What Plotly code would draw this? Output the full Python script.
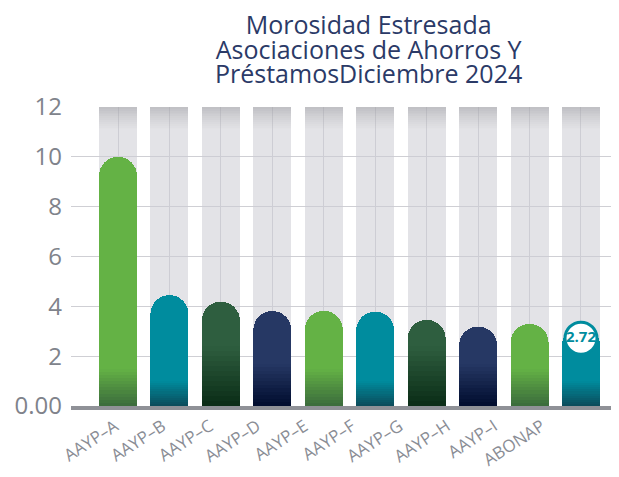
import plotly.graph_objects as go

# Datos
categorias = ["AAYP–A", "AAYP–B", "AAYP–C", "AAYP–D", "AAYP–E",
              "AAYP–F", "AAYP–G", "AAYP–H", "AAYP–I", "ABONAP"]
morosidad = [9.53, 3.98, 3.72, 3.34, 3.35, 3.32, 2.99, 2.72, 2.83, 2.72]
destacado = "ABONAP"
titulo = ["Morosidad Estresada", "Asociaciones de Ahorros Y", "PréstamosDiciembre 2024"]
y_ticks = [0, 2, 4, 6, 8, 10, 12]
y_tick_labels = ["0.00", "2", "4", "6", "8", "10", "12"]

# Estilo
VERDE, TEAL, VERDE_OSC, NAVY = "#64b245", "#008c9e", "#2e5e3f", "#263864"
oscuro = {VERDE: "#3a6a3c", TEAL: "#0b4a59", VERDE_OSC: "#0a2c16", NAVY: "#000c2e"}
alto_grad = {VERDE: 1.5, TEAL: 1.0, VERDE_OSC: 2.4, NAVY: 1.7}
colores = [VERDE, TEAL, VERDE_OSC, NAVY, VERDE, TEAL, VERDE_OSC, NAVY, VERDE, TEAL]
CAP = 0.47        # the rounded top sits above the value
ANCHO = 0.74
TOPE = 12
SOMBRA = 0.9
N = 12
FUENTE = "Open Sans"
GRID = "#cfcfd4"


def mezcla(c1, c2, t):
    a = [int(c1[i:i + 2], 16) for i in (1, 3, 5)]
    b = [int(c2[i:i + 2], 16) for i in (1, 3, 5)]
    return "rgb(%d,%d,%d)" % tuple(round(a[i] + (b[i] - a[i]) * t) for i in range(3))


fig = go.Figure()
n = len(categorias)

# traza invisible para que se dibuje el eje de etiquetas (x / y)
fig.add_trace(go.Scatter(x=list(range(n)), y=[0] * n, mode="markers",
                         marker=dict(opacity=0), hoverinfo="skip"))

# fondo gris de cada barra (x2 / y)
fig.add_trace(go.Bar(x=categorias, y=[TOPE - SOMBRA] * n, width=ANCHO, xaxis="x2", yaxis="y",
                     marker=dict(color="rgba(204,204,211,0.55)", line_width=0),
                     hoverinfo="skip"))
for k in range(N):
    t = (k + 0.5) / N
    alpha = 0.55 + 0.2 * t
    g = round(204 - 34 * t)
    fig.add_trace(go.Bar(x=categorias, y=[SOMBRA / N] * n, width=ANCHO, xaxis="x2", yaxis="y",
                         marker=dict(color=f"rgba({g},{g},{g + 6},{alpha:.3f})", line_width=0),
                         hoverinfo="skip"))

# barras de color (x2 / y2, encima)
for k in range(N):
    fig.add_trace(go.Bar(x=categorias, y=[alto_grad[c] / N for c in colores], width=ANCHO,
                         xaxis="x2", yaxis="y2",
                         marker=dict(color=[mezcla(oscuro[c], c, (k + 0.5) / N) for c in colores],
                                     line_width=0),
                         hoverinfo="skip"))
fig.add_trace(go.Bar(x=categorias,
                     y=[v + CAP - alto_grad[c] for v, c in zip(morosidad, colores)],
                     width=ANCHO, xaxis="x2", yaxis="y2",
                     marker=dict(color=colores, line_width=0, cornerradius="50%"),
                     hoverinfo="skip"))

# etiqueta del valor destacado
i = categorias.index(destacado)
fig.add_trace(go.Scatter(x=[destacado], y=[morosidad[i]], mode="markers+text",
                         xaxis="x2", yaxis="y2",
                         text=[f"{morosidad[i]:.2f}"], textposition="middle center",
                         textfont=dict(family=FUENTE, size=15, color=TEAL, weight="bold"),
                         marker=dict(size=32, color="white", line=dict(color=TEAL, width=3)),
                         hoverinfo="skip"))

# titulo: lineas juntas (interlineado del tamaño 19, letra de 25)
fig.add_annotation(text="<br>".join(f"<span style='font-size:25px'>{l}</span>" for l in titulo),
                   xref="paper", yref="paper", x=0.542, y=1.1956,
                   xanchor="center", yanchor="middle", showarrow=False,
                   font=dict(family=FUENTE, size=19, color="#2b3a67"))

# the page body adds an 8 px margin, so the figure is 8 px smaller
fig.update_layout(
    barmode="stack",
    showlegend=False,
    width=611, height=469,
    margin=dict(l=63, r=0, t=99, b=71),
    plot_bgcolor="white",
    paper_bgcolor="white",
    # eje de etiquetas: en el original van un poco mas juntas que las barras
    xaxis=dict(range=[-0.928, 10.633], tickvals=list(range(n)), ticktext=categorias,
               showgrid=False, zeroline=False,
               showline=True, linecolor="#8f9197", linewidth=4, ticks="",
               tickangle=-33, automargin=False,
               tickfont=dict(family=FUENTE, size=17, color="#8a8d95")),
    xaxis2=dict(range=[-0.914, 9.739], overlaying="x", showgrid=True, gridcolor=GRID,
                gridwidth=1, showticklabels=False, showline=False, ticks="", zeroline=False),
    yaxis=dict(range=[0, TOPE], tickvals=y_ticks, ticktext=y_tick_labels,
               showgrid=True, gridcolor=GRID, gridwidth=1, zeroline=False,
               showline=False, ticks="", ticklabelstandoff=8, automargin=False,
               tickfont=dict(family=FUENTE, size=24, color="#80838b")),
    yaxis2=dict(range=[0, TOPE], overlaying="y", visible=False),
)

fig.write_html("out.html")
